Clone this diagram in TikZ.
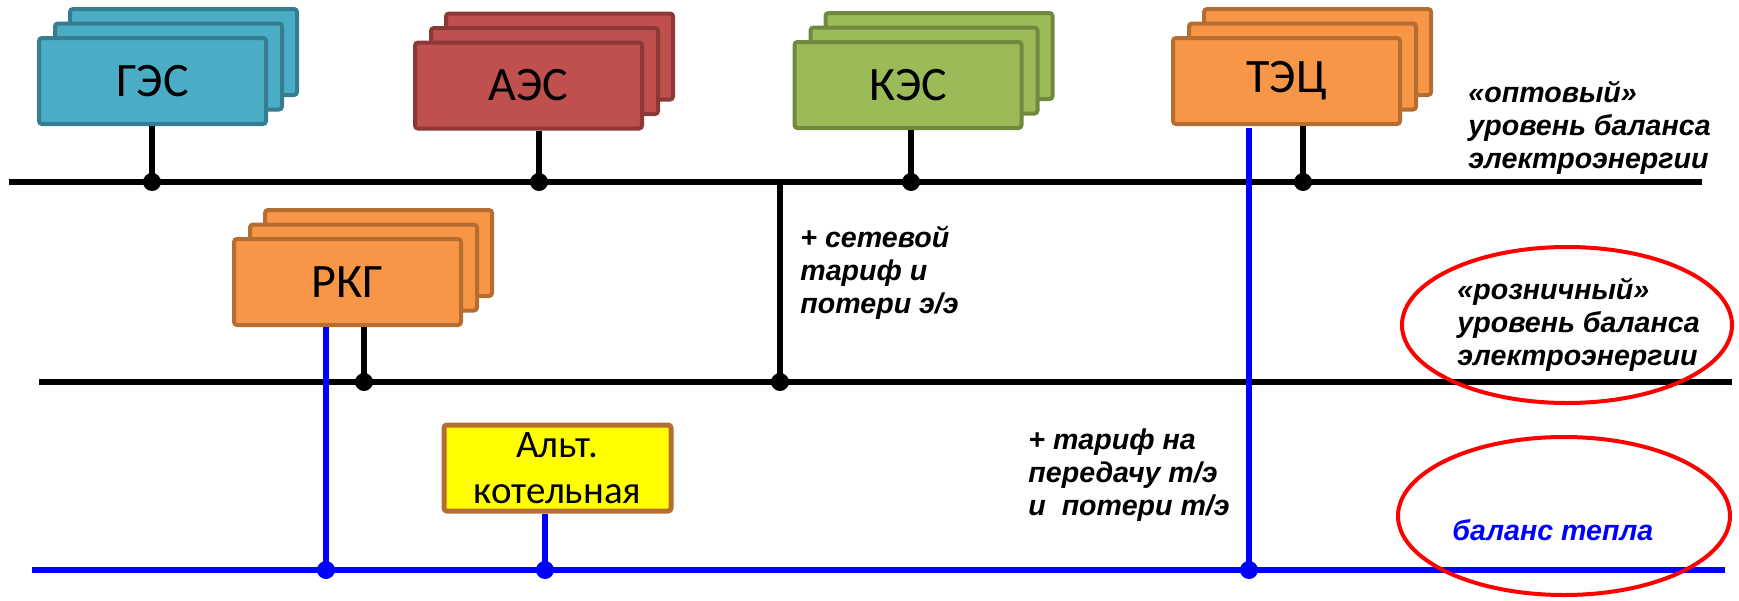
\documentclass[tikz,border=0pt]{standalone}
\usepackage{fontspec}
\setmainfont{Liberation Sans}
\newfontfamily\boxfont{Carlito}
\definecolor{gesF}{HTML}{4BACC6}\definecolor{gesD}{HTML}{357D91}
\definecolor{aesF}{HTML}{C0504D}\definecolor{aesD}{HTML}{8C3836}
\definecolor{kesF}{HTML}{9BBB59}\definecolor{kesD}{HTML}{71893F}
\definecolor{tecF}{HTML}{F79646}\definecolor{tecD}{HTML}{B66D31}
\definecolor{heatblue}{HTML}{0000FF}
\definecolor{altF}{HTML}{FFFF00}
\newcommand\plantstack[6]{%
  \node[plant, fill=#4, draw=#5] (#1-3) at (#2+31,#3-29) {};
  \node[plant, fill=#4, draw=#5] (#1-2) at (#2+16,#3-14.5) {};
  \node[plant, fill=#4, draw=#5] (#1) at (#2,#3) {#6};}
\begin{document}
\begin{tikzpicture}[x=0.5pt,y=-0.5pt,
  plant/.style={draw, line width=2pt, rounded corners=1.5pt, minimum width=113.5pt,
    minimum height=43pt, inner sep=0pt, font=\boxfont\fontsize{24}{26}\selectfont},
  altbox/.style={plant, fill=altF, draw=tecD, line width=2.5pt,
    align=center, font=\boxfont\fontsize{19.5}{23}\selectfont},
  bus/.style={line width=2.6pt, draw=black},
  hbus/.style={line width=2.8pt, draw=heatblue},
  dot/.style={circle, inner sep=0pt, minimum size=9pt},
  note/.style={anchor=west, align=left, inner sep=0pt,
    font=\bfseries\itshape\fontsize{14.3}{16.5}\selectfont},
  ring/.style={draw=red, line width=2pt}]
\useasboundingbox (0,0) rectangle (1739,600);

% bus end points
\coordinate (b1w) at (9,182);   \coordinate (b1e) at (1702,182);
\coordinate (b2w) at (39,382);  \coordinate (b2e) at (1732,382);
\coordinate (b3w) at (32,570);  \coordinate (b3e) at (1725,570);

% junction points
\coordinate (jges) at (152,182);
\coordinate (jaes) at (539,182);
\coordinate (jkes) at (911,182);
\coordinate (jtec) at (1303,182);
\coordinate (jnet) at (780,182);
\coordinate (jnetb) at (780,382);
\coordinate (jrkg) at (364,382);
\coordinate (hrkg) at (326,570);
\coordinate (halt) at (545,570);
\coordinate (htec) at (1249,570);

% plants
\plantstack{ges}{152.5}{81}{gesF}{gesD}{ГЭС}
\plantstack{aes}{528.5}{85.5}{aesF}{aesD}{АЭС}
\plantstack{kes}{908}{85}{kesF}{kesD}{КЭС}
\plantstack{tec}{1286.5}{81}{tecF}{tecD}{ТЭЦ}
\plantstack{rkg}{347.5}{282}{tecF}{tecD}{РКГ}
\node[altbox] (alt) at (557.5,468) {Альт.\\котельная};

% buses
\draw[bus] (b1w) -- (b1e);
\draw[bus] (b2w) -- (b2e);
\draw[hbus] (b3w) -- (b3e);

% stems
\draw[bus] (jges |- ges.south) -- (jges);
\draw[bus] (jaes |- aes.south) -- (jaes);
\draw[bus] (jkes |- kes.south) -- (jkes);
\draw[bus] (jtec |- tec.south) -- (jtec);
\draw[bus] (jnet) -- (jnetb);
\draw[bus] (jrkg |- rkg.south) -- (jrkg);
\draw[hbus] ([yshift=-1pt]htec |- tec.south) -- (htec);
\draw[hbus] (hrkg |- rkg.south) -- (hrkg);
\draw[hbus] (halt |- alt.south) -- (halt);

% dots
\foreach \p in {jges,jaes,jkes,jtec,jnetb,jrkg}
  \node[dot, fill=black] at (\p) {};
\foreach \p in {hrkg,halt,htec}
  \node[dot, fill=heatblue] at (\p) {};

% notes
\node[note] (opt) at (1468,128) {«оптовый»\\уровень баланса\\электроэнергии};
\node[note] (roz) at (1457,325) {«розничный»\\уровень баланса\\электроэнергии};
\node[note] (net) at (800,273) {+ сетевой\\тариф и\\потери э/э};
\node[note] (heat) at (1028,475) {+ тариф на\\передачу т/э\\и\ \ потери т/э};
\node[note, text=heatblue] (hb) at (1452,530) {баланс тепла};

% rings
\draw[ring] (1567,325) ellipse [x radius=165, y radius=78];
\draw[ring] (1564,516) ellipse [x radius=166, y radius=79];
\end{tikzpicture}
\end{document}
